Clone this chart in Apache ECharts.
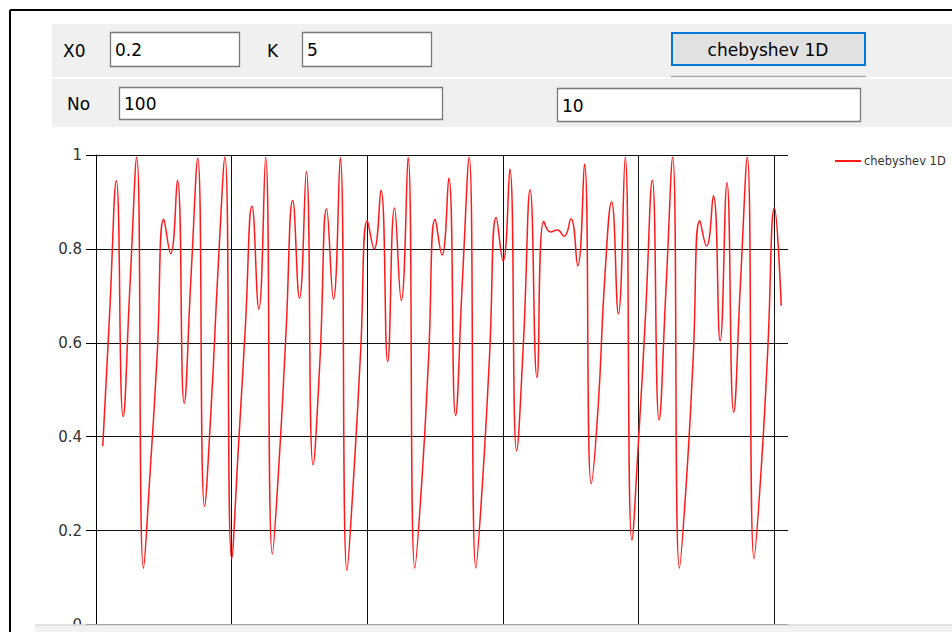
<!DOCTYPE html>
<html>
<head>
<meta charset="utf-8">
<script src="https://cdn.jsdelivr.net/npm/echarts@6/dist/echarts.min.js"></script>
<style>
  html, body { margin: 0; padding: 0; background: #ffffff; }
  #main { width: 952px; height: 632px; }
</style>
</head>
<body>
<div id="main"></div>
<script>
// Input form contents
const fieldLabels = ['X0', 'K', 'No'];
const fieldValues = ['0.2', '5', '100', '10'];
const buttonText = 'chebyshev 1D';

// Plotted series: one value per iteration (iteration 1 .. 101)
const seriesName = 'chebyshev 1D';
const chebyshevValues = [
  0.38, 0.66, 0.945, 0.443, 0.72, 0.995, 0.12, 0.33, 0.57, 0.863,
  0.79, 0.946, 0.471, 0.74, 0.993, 0.252, 0.47, 0.76, 0.995, 0.14,
  0.38, 0.63, 0.891, 0.672, 0.995, 0.15, 0.35, 0.62, 0.903, 0.695,
  0.965, 0.34, 0.56, 0.885, 0.693, 0.995, 0.115, 0.32, 0.58, 0.86,
  0.80, 0.925, 0.56, 0.887, 0.69, 0.995, 0.12, 0.30, 0.56, 0.863,
  0.787, 0.951, 0.445, 0.73, 0.995, 0.12, 0.31, 0.57, 0.867, 0.774,
  0.97, 0.37, 0.60, 0.926, 0.526, 0.859, 0.836, 0.84, 0.827, 0.864,
  0.764, 0.981, 0.30, 0.46, 0.74, 0.90, 0.662, 0.995, 0.18, 0.40,
  0.66, 0.946, 0.436, 0.71, 0.995, 0.12, 0.30, 0.56, 0.86, 0.806,
  0.913, 0.604, 0.941, 0.452, 0.73, 0.995, 0.14, 0.32, 0.58, 0.887,
  0.679
];
const firstIteration = 1;

// Axis ranges
const xRange = { min: 0, max: 102, step: 20 };
const yRange = { min: 0, max: 1, step: 0.2 };

const uiFont = '"DejaVu Sans", Verdana, sans-serif';
const panelGray = '#f0f0f0';
const boxBorder = '#7a7a7a';

const chart = echarts.init(document.getElementById('main'), null, { renderer: 'svg' });

function textBox(x, y, w, h, value) {
  return [
    { type: 'rect', shape: { x: x + 0.5, y: y + 0.5, width: w, height: h },
      style: { fill: '#ffffff', stroke: boxBorder, lineWidth: 1.3 }, z: 10 },
    { type: 'text', x: x + 5, y: y + h / 2 + 1,
      style: { text: value, font: '17px ' + uiFont, fill: '#000000', verticalAlign: 'middle' }, z: 11 }
  ];
}
function label(x, y, txt) {
  return { type: 'text', x: x, y: y,
    style: { text: txt, font: '17px ' + uiFont, fill: '#000000', verticalAlign: 'middle' }, z: 11 };
}

const graphics = [
  // window frame
  { type: 'line', shape: { x1: 10, y1: 10, x2: 952, y2: 10 }, style: { stroke: '#000', lineWidth: 2 }, z: 20 },
  { type: 'line', shape: { x1: 10, y1: 10, x2: 10, y2: 632 }, style: { stroke: '#000', lineWidth: 2 }, z: 20 },
  // control panel rows
  { type: 'rect', shape: { x: 52, y: 24, width: 900, height: 53 }, style: { fill: panelGray }, z: 5 },
  { type: 'rect', shape: { x: 52, y: 79, width: 900, height: 48 }, style: { fill: panelGray }, z: 5 },
  label(63, 51, fieldLabels[0]),
  ...textBox(110, 32, 129, 34, fieldValues[0]),
  label(267, 51, fieldLabels[1]),
  ...textBox(302, 32, 129, 34, fieldValues[1]),
  label(67, 104, fieldLabels[2]),
  ...textBox(119, 87, 323, 32, fieldValues[2]),
  ...textBox(557, 88, 303, 33, fieldValues[3]),
  // button
  { type: 'rect', shape: { x: 672, y: 33, width: 193, height: 32 },
    style: { fill: '#e1e1e1', stroke: '#0078d7', lineWidth: 2 }, z: 10 },
  { type: 'text', x: 768, y: 50,
    style: { text: buttonText, font: '17px ' + uiFont, fill: '#000000', align: 'center', verticalAlign: 'middle' }, z: 11 },
  { type: 'line', shape: { x1: 671, y1: 76.5, x2: 866, y2: 76.5 }, style: { stroke: '#a8a8a8', lineWidth: 1.5 }, z: 10 },
  // strip along the bottom edge
  { type: 'rect', shape: { x: 35, y: 625, width: 917, height: 7 }, style: { fill: '#f2f2f2' }, z: 30 },
  { type: 'line', shape: { x1: 35, y1: 625, x2: 952, y2: 625 }, style: { stroke: '#d9d9d9', lineWidth: 1.5 }, z: 31 }
];

chart.setOption({
  animation: false,
  backgroundColor: '#ffffff',
  grid: { left: 96, right: 164, top: 155, bottom: 4 },
  legend: {
    data: [seriesName],
    left: 830, top: 150,
    itemWidth: 26, itemHeight: 10, itemGap: 10,
    icon: 'path://M0,4 L26,4 L26,6 L0,6 Z',
    textStyle: { fontFamily: uiFont, fontSize: 11.5, color: '#333333', padding: [0, 0, 0, -2] }
  },
  xAxis: {
    type: 'value',
    min: xRange.min, max: xRange.max, interval: xRange.step,
    axisLine: { show: false },
    axisTick: { show: false },
    axisLabel: { show: false },
    splitLine: { show: true, showMaxLine: false, lineStyle: { color: '#111111', width: 1 } }
  },
  yAxis: {
    type: 'value',
    min: yRange.min, max: yRange.max, interval: yRange.step,
    axisLine: { show: true, lineStyle: { color: '#000000', width: 1 } },
    axisTick: { show: true, length: 10, lineStyle: { color: '#000000' } },
    axisLabel: { margin: 14, color: '#333333', fontSize: 15, fontFamily: uiFont },
    splitLine: { show: true, lineStyle: { color: '#111111', width: 1 } }
  },
  series: [{
    name: seriesName,
    type: 'line',
    data: chebyshevValues.map((v, i) => [firstIteration + i, v]),
    smooth: 0.5,
    symbol: 'none',
    clip: true,
    lineStyle: { color: '#ff1a1a', width: 1.5 },
    itemStyle: { color: '#ff1a1a' }
  }],
  graphic: graphics
});
</script>
</body>
</html>
